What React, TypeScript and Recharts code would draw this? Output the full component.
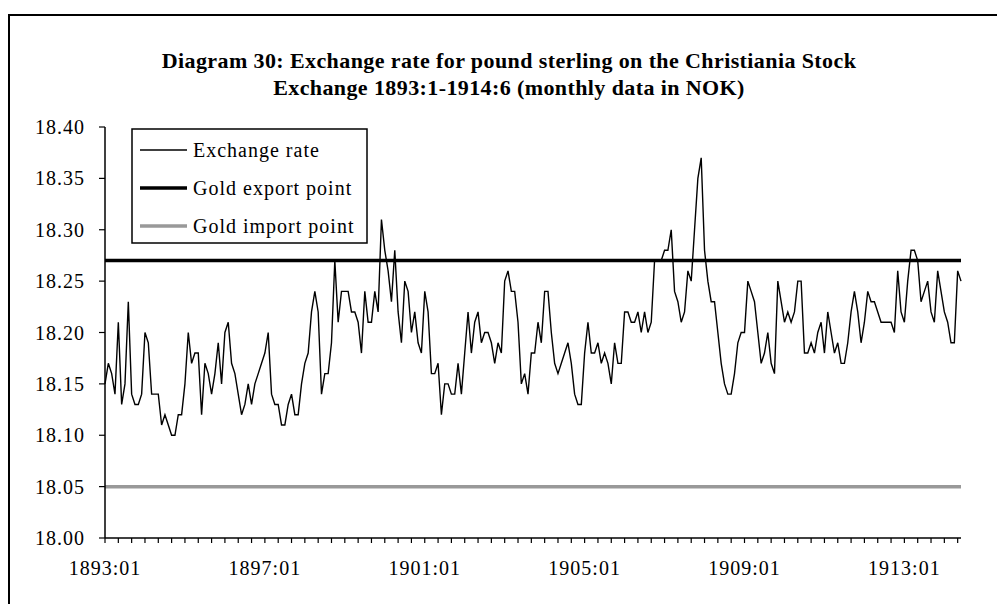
import { LineChart, Line, XAxis, YAxis } from 'recharts'

const FONT = '"Liberation Serif", "Times New Roman", serif'

// monthly exchange rate, NOK per pound sterling
const rates1893 = [18.15, 18.17, 18.16, 18.14, 18.21, 18.13, 18.15, 18.23, 18.14, 18.13, 18.13, 18.14]
const rates1894 = [18.2, 18.19, 18.14, 18.14, 18.14, 18.11, 18.12, 18.11, 18.1, 18.1, 18.12, 18.12]
const rates1895 = [18.15, 18.2, 18.17, 18.18, 18.18, 18.12, 18.17, 18.16, 18.14, 18.16, 18.19, 18.15]
const rates1896 = [18.2, 18.21, 18.17, 18.16, 18.14, 18.12, 18.13, 18.15, 18.13, 18.15, 18.16, 18.17]
const rates1897 = [18.18, 18.2, 18.14, 18.13, 18.13, 18.11, 18.11, 18.13, 18.14, 18.12, 18.12, 18.15]
const rates1898 = [18.17, 18.18, 18.22, 18.24, 18.22, 18.14, 18.16, 18.16, 18.19, 18.27, 18.21, 18.24]
const rates1899 = [18.24, 18.24, 18.22, 18.22, 18.21, 18.18, 18.24, 18.21, 18.21, 18.24, 18.22, 18.31]
const rates1900 = [18.28, 18.26, 18.23, 18.28, 18.22, 18.19, 18.25, 18.24, 18.2, 18.22, 18.19, 18.18]
const rates1901 = [18.24, 18.22, 18.16, 18.16, 18.17, 18.12, 18.15, 18.15, 18.14, 18.14, 18.17, 18.14]
const rates1902 = [18.18, 18.22, 18.18, 18.21, 18.22, 18.19, 18.2, 18.2, 18.19, 18.17, 18.19, 18.18]
const rates1903 = [18.25, 18.26, 18.24, 18.24, 18.21, 18.15, 18.16, 18.14, 18.18, 18.18, 18.21, 18.19]
const rates1904 = [18.24, 18.24, 18.2, 18.17, 18.16, 18.17, 18.18, 18.19, 18.17, 18.14, 18.13, 18.13]
const rates1905 = [18.18, 18.21, 18.18, 18.18, 18.19, 18.17, 18.18, 18.17, 18.15, 18.19, 18.17, 18.17]
const rates1906 = [18.22, 18.22, 18.21, 18.21, 18.22, 18.2, 18.22, 18.2, 18.21, 18.27, 18.27, 18.27]
const rates1907 = [18.28, 18.28, 18.3, 18.24, 18.23, 18.21, 18.22, 18.26, 18.25, 18.3, 18.35, 18.37]
const rates1908 = [18.28, 18.25, 18.23, 18.23, 18.2, 18.17, 18.15, 18.14, 18.14, 18.16, 18.19, 18.2]
const rates1909 = [18.2, 18.25, 18.24, 18.23, 18.2, 18.17, 18.18, 18.2, 18.17, 18.16, 18.25, 18.23]
const rates1910 = [18.21, 18.22, 18.21, 18.22, 18.25, 18.25, 18.18, 18.18, 18.19, 18.18, 18.2, 18.21]
const rates1911 = [18.18, 18.22, 18.2, 18.18, 18.19, 18.17, 18.17, 18.19, 18.22, 18.24, 18.22, 18.19]
const rates1912 = [18.21, 18.24, 18.23, 18.23, 18.22, 18.21, 18.21, 18.21, 18.21, 18.2, 18.26, 18.22]
const rates1913 = [18.21, 18.25, 18.28, 18.28, 18.27, 18.23, 18.24, 18.25, 18.22, 18.21, 18.26, 18.24]
const rates1914 = [18.22, 18.21, 18.19, 18.19, 18.26, 18.25]

const goldExportPoint = 18.27
const goldImportPoint = 18.05

const yTicks = [18.0, 18.05, 18.1, 18.15, 18.2, 18.25, 18.3, 18.35, 18.4]
const firstYear = 1893
const labelEvery = 48
const tickEvery = 4

const exchangeRate = [
  ...rates1893, ...rates1894, ...rates1895, ...rates1896, ...rates1897, ...rates1898,
  ...rates1899, ...rates1900, ...rates1901, ...rates1902, ...rates1903, ...rates1904,
  ...rates1905, ...rates1906, ...rates1907, ...rates1908, ...rates1909, ...rates1910,
  ...rates1911, ...rates1912, ...rates1913, ...rates1914,
]

const monthLabels = exchangeRate.map(
  (_, i) => `${firstYear + Math.floor(i / 12)}:${String((i % 12) + 1).padStart(2, '0')}`
)

const data = exchangeRate.map((rate, i) => ({
  idx: i,
  month: monthLabels[i],
  rate,
  exportPoint: goldExportPoint,
  importPoint: goldImportPoint,
}))

const xTicks = data.map((d) => d.idx).filter((i) => i % tickEvery === 0)

const legendItems = [
  { label: 'Exchange rate', color: '#000', width: 1.5 },
  { label: 'Gold export point', color: '#000', width: 3.5 },
  { label: 'Gold import point', color: '#999', width: 3.5 },
]

const tickStyle = { fill: '#000', fontSize: 20, fontFamily: FONT, letterSpacing: 1 }

function Legend() {
  return (
    <svg width={237} height={116} style={{ position: 'absolute', left: 131, top: 128 }}>
      <rect x={1} y={1} width={235} height={114} fill="#fff" stroke="#000" strokeWidth={1.5} />
      {legendItems.map((item, i) => {
        const cy = 22 + i * 38
        return (
          <g key={item.label}>
            <line x1={9} x2={56} y1={cy} y2={cy} stroke={item.color} strokeWidth={item.width} />
            <text x={62} y={cy + 7} fontSize={20} fontFamily={FONT} letterSpacing={1} fill="#000">
              {item.label}
            </text>
          </g>
        )
      })}
    </svg>
  )
}

export default function App() {
  return (
    <div
      style={{
        position: 'fixed',
        left: 0,
        top: 0,
        width: 997,
        height: 604,
        overflow: 'hidden',
        background: '#fff',
      }}
    >
      <div
        style={{
          position: 'absolute',
          left: 8,
          top: 14,
          width: 1100,
          height: 700,
          border: '2px solid #000',
        }}
      />
      <div
        style={{
          position: 'absolute',
          left: 0,
          top: 47,
          width: 1018,
          textAlign: 'center',
          fontFamily: FONT,
          fontWeight: 'bold',
          fontSize: 22,
          lineHeight: '27px',
          letterSpacing: 0.4,
          color: '#000',
        }}
      >
        Diagram 30: Exchange rate for pound sterling on the Christiania Stock
        <br />
        Exchange 1893:1-1914:6 (monthly data in NOK)
      </div>
      <div style={{ position: 'absolute', left: 0, top: 0 }}>
        <LineChart width={997} height={604} data={data} margin={{ top: 127, right: 36, bottom: 36, left: 0 }}>
          <XAxis
            type="number"
            dataKey="idx"
            domain={[0, exchangeRate.length - 1]}
            ticks={xTicks}
            interval={0}
            tickFormatter={(v: number) => (v % labelEvery === 0 ? monthLabels[v] : '')}
            axisLine={{ stroke: '#000', strokeWidth: 1.5 }}
            tickLine={{ stroke: '#000', strokeWidth: 1.2 }}
            tickSize={5}
            tickMargin={18}
            height={30}
            tick={tickStyle}
          />
          <YAxis
            type="number"
            domain={[18, 18.4]}
            ticks={yTicks}
            interval={0}
            tickFormatter={(v: number) => v.toFixed(2)}
            axisLine={{ stroke: '#000', strokeWidth: 1.5 }}
            tickLine={{ stroke: '#000', strokeWidth: 1.2 }}
            tickSize={6}
            tickMargin={14}
            width={105}
            tick={tickStyle}
          />
          <Line dataKey="exportPoint" stroke="#000" strokeWidth={3.5} dot={false} isAnimationActive={false} />
          <Line dataKey="importPoint" stroke="#999" strokeWidth={3.5} dot={false} isAnimationActive={false} />
          <Line
            type="linear"
            dataKey="rate"
            stroke="#000"
            strokeWidth={1.4}
            dot={false}
            isAnimationActive={false}
          />
        </LineChart>
      </div>
      <Legend />
    </div>
  )
}
